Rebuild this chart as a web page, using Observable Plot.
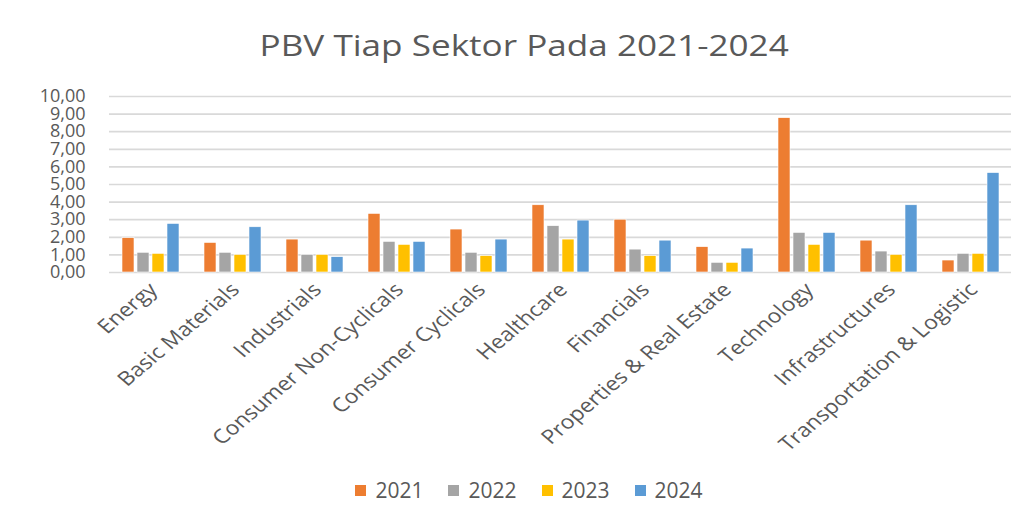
<!DOCTYPE html>
<html>
<head>
<meta charset="utf-8">
<script src="https://cdn.jsdelivr.net/npm/d3@7"></script>
<script src="https://cdn.jsdelivr.net/npm/@observablehq/plot@0.6"></script>
<style>
  body { margin: 0; background: #fff; font-family: "Open Sans", sans-serif; }
  #wrap { width: 1028px; height: 517px; position: relative; overflow: hidden; }
  #title { height: 80px; box-sizing: border-box; padding-top: 24px; text-align: center; color: #595959; }
  #title span { display: inline-block; font-size: 30px; transform: scaleX(1.17); margin-left: 20px; }
  #legend { display: flex; justify-content: center; gap: 25px; font-size: 21px; color: #595959; margin-top: 6px; padding-left: 30px; }
  #legend span.item { display: flex; align-items: center; gap: 9px; }
  #legend span.sw { width: 11px; height: 11px; display: inline-block; }
</style>
</head>
<body>
<div id="wrap">
  <div id="title"><span>PBV Tiap Sektor Pada 2021-2024</span></div>
  <div id="chart"></div>
  <div id="legend"></div>
</div>
<script>
const sectors = ["Energy", "Basic Materials", "Industrials", "Consumer Non-Cyclicals", "Consumer Cyclicals", "Healthcare", "Financials", "Properties & Real Estate", "Technology", "Infrastructures", "Transportation & Logistic"];
const years = ["2021", "2022", "2023", "2024"];
const colors = ["#ED7D31", "#A5A5A5", "#FFC000", "#5B9BD5"];
const v2021 = [1.95, 1.68, 1.87, 3.33, 2.44, 3.82, 3.00, 1.44, 8.77, 1.81, 0.68];
const v2022 = [1.12, 1.12, 1.00, 1.74, 1.12, 2.63, 1.30, 0.55, 2.25, 1.19, 1.06];
const v2023 = [1.06, 1.00, 1.00, 1.57, 0.93, 1.87, 0.93, 0.55, 1.57, 1.00, 1.06];
const v2024 = [2.76, 2.57, 0.87, 1.74, 1.87, 2.95, 1.81, 1.36, 2.25, 3.82, 5.65];
const yTicks = [0, 1, 2, 3, 4, 5, 6, 7, 8, 9, 10];

const series = [v2021, v2022, v2023, v2024];
const data = [];
sectors.forEach((s, i) => years.forEach((y, j) => data.push({sector: s, year: y, value: series[j][i]})));

const fmt = d => d.toFixed(2).replace(".", ",");

const chart = Plot.plot({
  width: 1028,
  height: 390,
  marginTop: 16,
  marginBottom: 198,
  marginLeft: 108,
  marginRight: 16,
  style: {fontFamily: "Open Sans", color: "#595959", background: "#fff", overflow: "visible"},
  fx: {domain: sectors, padding: 0, label: null},
  x: {domain: years, paddingInner: 0.2, paddingOuter: 0.83, axis: null},
  y: {domain: [0, 10], ticks: yTicks, label: null, axis: null},
  color: {domain: years, range: colors},
  marks: [
    Plot.gridY(yTicks, {stroke: "#d9d9d9", strokeOpacity: 1, strokeWidth: 1.7}),
    Plot.axisY(yTicks, {tickSize: 0, tickPadding: 24, tickFormat: fmt, fontSize: 18, fill: "#595959", facetAnchor: "left", anchor: "left"}),
    Plot.axisFx({anchor: "bottom", tickRotate: -45, tickSize: 0, tickPadding: 14, dx: 3, fontSize: 19.5, fill: "#595959", label: null}),
    Plot.barY(data, {fx: "sector", x: "year", y: "value", fill: "year", stroke: "white", strokeWidth: 0.6})
  ]
});
// the reference is stretched horizontally: widen the rotated category labels in screen space
chart.querySelectorAll('g[aria-label="fx-axis tick label"] text').forEach(t => {
  const tr = t.getAttribute("transform") || "";
  t.setAttribute("transform", tr.replace("rotate(", "scale(1.18,1) rotate("));
});
document.getElementById("chart").appendChild(chart);

const leg = document.getElementById("legend");
years.forEach((y, j) => {
  const it = document.createElement("span");
  it.className = "item";
  it.innerHTML = `<span class="sw" style="background:${colors[j]}"></span><span>${y}</span>`;
  leg.appendChild(it);
});
</script>
</body>
</html>
